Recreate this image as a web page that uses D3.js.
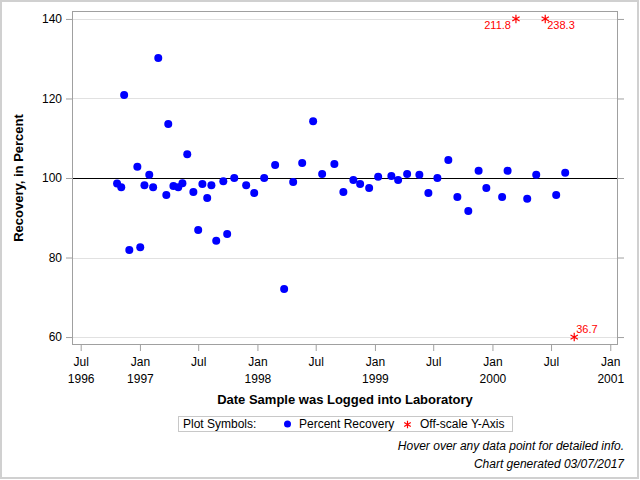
<!DOCTYPE html>
<html><head><meta charset="utf-8">
<script src="https://cdn.jsdelivr.net/npm/d3@7"></script>
<style>
body{margin:0;background:#fff;}
text{font-family:"Liberation Sans",Arial,sans-serif;}
</style></head>
<body><svg id="c" width="640" height="480"></svg>
<script>
const sampleDates = ["1996-10-22","1996-11-04","1996-11-13","1996-11-29","1996-12-24","1997-01-02","1997-01-15","1997-01-30","1997-02-11","1997-02-27",
"1997-03-24","1997-03-30","1997-04-15","1997-04-30","1997-05-13","1997-05-28","1997-06-16","1997-07-01","1997-07-14","1997-07-29",
"1997-08-11","1997-08-26","1997-09-17","1997-09-29","1997-10-21","1997-11-27","1997-12-22","1998-01-22","1998-02-25","1998-03-25",
"1998-04-22","1998-05-20","1998-06-23","1998-07-21","1998-08-28","1998-09-25","1998-10-26","1998-11-16","1998-12-14","1999-01-11",
"1999-02-21","1999-03-14","1999-04-11","1999-05-19","1999-06-16","1999-07-14","1999-08-17","1999-09-14","1999-10-18","1999-11-19",
"1999-12-13","2000-01-31","2000-02-17","2000-04-18","2000-05-16","2000-07-17","2000-08-14"];
const recovery = [98.6,97.7,120.9,81.9,102.8,82.6,98.2,100.8,97.7,130.2,
95.7,113.6,98.0,97.7,98.7,106.0,96.5,86.9,98.5,95.0,
98.2,84.2,99.2,85.9,100.0,98.2,96.2,100.0,103.3,72.1,
99.0,103.8,114.3,101.0,103.5,96.5,99.5,98.5,97.5,100.3,
100.5,99.5,101.0,100.8,96.2,100.0,104.5,95.2,91.7,101.8,
97.5,95.2,101.8,94.8,100.8,95.7,101.3];
const offScaleDates = ["2000-03-14","2000-06-13","2000-09-11"];
const offScaleValues = [211.8,238.3,36.7];
const yTicks = [60,80,100,120,140];
const referenceValue = 100;
const titleX = "Date Sample was Logged into Laboratory";
const titleY = "Recovery, in Percent";
const legendTitle = "Plot Symbols:";
const legendItems = ["Percent Recovery","Off-scale Y-Axis"];
const footnotes = ["Hover over any data point for detailed info.","Chart generated 03/07/2017"];

const parse = d3.timeParse("%Y-%m-%d");
const svg = d3.select("#c");
const L=72, R=618, T=11, B=345;
const x = d3.scaleTime().domain([parse("1996-06-04"), parse("2001-01-25")]).range([L,R]);
const y = d3.scaleLinear().domain([58,142]).range([B,T]);

// outer border
svg.append("rect").attr("x",1).attr("y",1).attr("width",637).attr("height",477)
  .attr("fill","none").attr("stroke","#d0d0d0").attr("stroke-width",2);

// gridlines
svg.append("g").selectAll("line").data(yTicks.filter(v=>v!==referenceValue)).join("line")
  .attr("x1",L).attr("x2",R).attr("y1",d=>Math.round(y(d))+0.5).attr("y2",d=>Math.round(y(d))+0.5)
  .attr("stroke","#e1e1e1");

// reference line
svg.append("line").attr("x1",L).attr("x2",R)
  .attr("y1",Math.round(y(referenceValue))+0.5).attr("y2",Math.round(y(referenceValue))+0.5)
  .attr("stroke","#000");

// axes
const xTickVals = d3.timeMonth.every(6).range(x.domain()[0], x.domain()[1]);
const xAxis = d3.axisBottom(x).tickValues(xTickVals).tickSize(6).tickFormat("");
const gx = svg.append("g").attr("transform",`translate(0,${B})`).call(xAxis);
gx.select(".domain").remove();
gx.selectAll(".tick line").attr("stroke","#a0a0a0");
gx.selectAll(".tick").each(function(d,i){
  const g = d3.select(this);
  const t = g.append("text").attr("fill","#000").attr("font-size",12).attr("text-anchor","middle");
  t.append("tspan").attr("x",0).attr("y",21).text(d3.timeFormat("%b")(d));
  if (d.getMonth()===0 || i===0) t.append("tspan").attr("x",0).attr("y",38).text(d3.timeFormat("%Y")(d));
});

const yAxis = d3.axisLeft(y).tickValues(yTicks).tickSize(6).tickPadding(4);
const gy = svg.append("g").attr("transform",`translate(${L},0)`).call(yAxis);
gy.select(".domain").remove();
gy.selectAll(".tick line").attr("stroke","#a0a0a0");
gy.selectAll(".tick text").attr("font-size",12).attr("fill","#000").attr("font-family","Liberation Sans, Arial, sans-serif");

const gy2 = svg.append("g").attr("transform",`translate(${R},0)`).call(d3.axisRight(y).tickValues(yTicks).tickSize(6).tickFormat(""));
gy2.select(".domain").remove();
gy2.selectAll(".tick line").attr("stroke","#a0a0a0");

// frame
svg.append("rect").attr("x",L+0.5).attr("y",T+0.5).attr("width",R-L-1).attr("height",B-T-1)
  .attr("fill","none").attr("stroke","#a0a0a0");

// points
svg.append("g").selectAll("circle").data(sampleDates.map((d,i)=>({d:parse(d),v:recovery[i]}))).join("circle")
  .attr("cx",p=>x(p.d)).attr("cy",p=>y(p.v)).attr("r",4).attr("fill","#0000ff");

// off-scale
const clampV = v => v>140 ? 140 : (v<60 ? 60 : v);
const asterisk = d3.symbol().type(d3.symbolAsterisk).size(50);
const off = offScaleDates.map((d,i)=>({d:parse(d),v:offScaleValues[i]}));
const go = svg.append("g");
go.selectAll("path").data(off).join("path")
  .attr("transform",p=>`translate(${x(p.d)},${y(clampV(p.v))})`)
  .attr("d",asterisk).attr("fill","none").attr("stroke","#ff0000").attr("stroke-width",1.2);
go.selectAll("text").data(off).join("text")
  .attr("x",(p,i)=> i===0 ? x(p.d)-5 : x(p.d)+2)
  .attr("y",p=> p.v>140 ? y(140)+10 : y(60)-4)
  .attr("text-anchor",(p,i)=> i===0 ? "end":"start")
  .attr("font-size",11).attr("fill","#ff0000").text(p=>p.v.toFixed(1));

// axis titles
svg.append("text").attr("x",(L+R)/2).attr("y",404).attr("text-anchor","middle")
  .attr("font-size",13).attr("font-weight","bold").attr("fill","#000").text(titleX);
svg.append("text").attr("transform",`translate(23,${(T+B)/2}) rotate(-90)`).attr("text-anchor","middle")
  .attr("font-size",13).attr("font-weight","bold").attr("fill","#000").text(titleY);

// legend
const lg = svg.append("g");
lg.append("rect").attr("x",178.5).attr("y",416.5).attr("width",334).attr("height",15)
  .attr("fill","none").attr("stroke","#c8c8c8");
lg.append("text").attr("x",183).attr("y",428).attr("font-size",12).attr("fill","#000").text(legendTitle);
lg.append("circle").attr("cx",287.5).attr("cy",424).attr("r",3.5).attr("fill","#0000ff");
lg.append("text").attr("x",299).attr("y",428).attr("font-size",12).attr("fill","#000").text(legendItems[0]);
lg.append("path").attr("transform","translate(407.5,424.5)").attr("d",d3.symbol().type(d3.symbolAsterisk).size(40))
  .attr("fill","none").attr("stroke","#ff0000").attr("stroke-width",1.2);
lg.append("text").attr("x",420).attr("y",428).attr("font-size",12).attr("fill","#000").text(legendItems[1]);

// footnotes
svg.append("g").selectAll("text").data(footnotes).join("text")
  .attr("x",624).attr("y",(d,i)=>450+i*18).attr("text-anchor","end")
  .attr("font-size",12).attr("font-style","italic").attr("fill","#000").text(d=>d);
</script></body></html>
